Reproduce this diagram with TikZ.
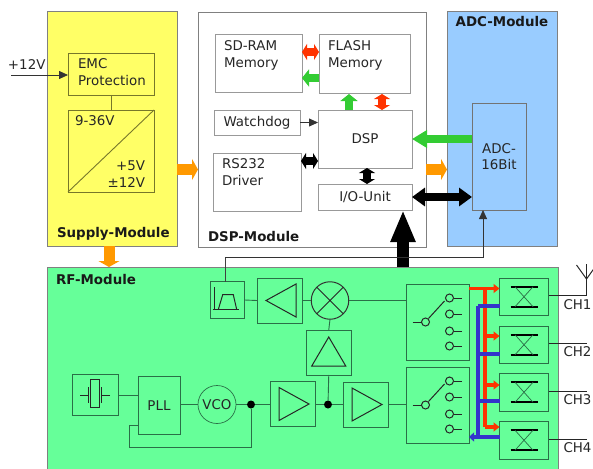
\documentclass[tikz,border=0pt]{standalone}
\usepackage{fontspec}
\setmainfont{DejaVu Sans}
\usetikzlibrary{positioning,arrows.meta}
\definecolor{supplyyellow}{HTML}{FFFF66}
\definecolor{adcblue}{HTML}{99CCFF}
\definecolor{rfgreen}{HTML}{66FF99}
\definecolor{arrowgreen}{HTML}{33CC33}
\definecolor{arrowred}{HTML}{FF3300}
\definecolor{arroworange}{HTML}{FF9900}
\definecolor{busblue}{HTML}{3333CC}
\definecolor{rfline}{HTML}{2A6F47}
\definecolor{yline}{HTML}{77772A}
\tikzset{
    x=1pt, y=-1pt,
    every node/.style={font=\fontsize{13.4}{16.5}\selectfont, text=black!85, inner sep=0pt, outer sep=0pt},
    }

\begin{document}
\begin{tikzpicture}[
module/.style={draw=black!50, line width=0.7pt, anchor=north west},
box/.style 2 args={draw, anchor=north west, minimum width=#1pt, minimum height=#2pt, line width=0.9pt},
dspbox/.style={draw=black!40, fill=white, line width=1pt},
rfbox/.style={draw=rfline},
ybox/.style={draw=yline},
title/.style={font=\fontsize{13.4}{16.5}\selectfont\bfseries, text=black!90},
txt/.style={align=left, anchor=north west},
wire/.style={rfline, line width=0.9pt},
symbol/.style={black!85, line width=1pt},
fatgreen/.style={arrowgreen, line width=8pt, -{Triangle[width=17pt,length=15pt]}},
smallgreen/.style={arrowgreen, line width=8pt, -{Triangle[width=17pt,length=7pt]}},
fatorange/.style={arroworange, line width=11pt, -{Triangle[width=21pt,length=6pt]}},
fatred/.style={arrowred, line width=8pt, {Triangle[width=16pt,length=5pt]}-{Triangle[width=16pt,length=5pt]}},
fatblack/.style={black, line width=8pt, {Triangle[width=16pt,length=5pt]}-{Triangle[width=16pt,length=5pt]}},
redbus/.style={arrowred, line width=3.5pt},
bluebus/.style={busblue, line width=3.5pt},
thin arrow/.style={black!80, line width=0.8pt, -{Triangle[width=8pt,length=9pt]}},
]
\useasboundingbox (0,0) rectangle (593,468);

% modules
\node[module, fill=supplyyellow, minimum width=130pt, minimum height=235pt] (supply) at (47,11) {};
\node[module, fill=white, minimum width=228pt, minimum height=235pt] (dspmod) at (198,12) {};
\node[module, fill=adcblue, minimum width=110pt, minimum height=235pt] (adcmod) at (447,11) {};
\node[module, fill=rfgreen, minimum width=511pt, minimum height=210pt] (rf) at (47,267) {};

\node[title, above right=6pt and 10pt of supply.south west] (supplytitle) {Supply-Module};
\node[title, above right=5pt and 10pt of dspmod.south west] (dsptitle) {DSP-Module};
\node[title, below=5pt of adcmod.north] (adctitle) {ADC-Module};
\node[title, below right=7pt and 9pt of rf.north west] (rftitle) {RF-Module};

% supply
\node[box={86}{42}, ybox] (emc) at (68,53) {};
\node[txt, below right=6pt and 10pt of emc.north west] (emctxt) {EMC\\Protection};
\node[box={86}{82}, ybox] (conv) at (68,110) {};
\node[txt, below right=6pt and 7pt of conv.north west] (convin) {9-36V};
\node[align=right, above left=5pt and 9pt of conv.south east] (convout) {+5V\\±12V};
\draw[yline, line width=0.9pt] (conv.south west) -- (conv.north east);
\draw[yline, line width=0.9pt] (emc.south) -- (emc.south |- conv.north);
\coordinate (vin) at (11,75);
\node[above right=5pt and -3pt of vin] (vinlabel) {+12V};
\draw[thin arrow] (vin) -- (vin -| emc.west);

% dsp
\node[box={87}{58}, dspbox] (sdram) at (215,35) {};
\node[box={91}{59}, dspbox] (flash) at (319,35) {};
\node[box={86}{25}, dspbox] (watchdog) at (214,110) {Watchdog};
\node[box={94}{58}, dspbox] (dsp) at (318,110) {DSP};
\node[box={88}{58}, dspbox] (rs232) at (213,153) {};
\node[box={94}{26}, dspbox] (io) at (318,184) {I/O-Unit};
\node[txt, below right=6pt and 9pt of sdram.north west] (sdramtxt) {SD-RAM\\Memory};
\node[txt, below right=6pt and 9pt of flash.north west] (flashtxt) {FLASH\\Memory};
\node[txt, below right=6pt and 9pt of rs232.north west] (rs232txt) {RS232\\Driver};

\draw[fatred] (sdram.east |- 0,52) -- (flash.west |- 0,52);
\draw[smallgreen] (flash.west |- 0,78) -- (sdram.east |- 0,78);
\draw[smallgreen] (349,110) -- (349,94);
\draw[fatred] (382,110) -- (382,94);
\draw[thin arrow] (watchdog.east) -- (watchdog.east -| dsp.west);
\draw[fatblack] (rs232.east |- 0,161) -- (dsp.west |- 0,161);
\draw[fatblack] (367,168) -- (367,184);

% adc
\node[box={54}{107}, draw=black!55, fill=adcblue, align=center] (adc) at (472,103) {ADC-\\16Bit};
\draw[fatgreen] (adc.west |- dsp.east) -- (dsp.east);
\draw[black, line width=8pt, {Triangle[width=18pt,length=13pt]}-{Triangle[width=18pt,length=13pt]}] (io.east) -- (io.east -| adc.west);
\coordinate (bigbus) at (403,267);
\draw[black, line width=12pt, -{Triangle[width=23pt,length=32pt]}] (bigbus) -- (bigbus |- io.south);
\draw[fatorange] (supply.east |- 0,169.5) -- (dspmod.west |- 0,169.5);
\draw[fatorange] (dspmod.east |- 0,169.5) -- (adcmod.west |- 0,169.5);
\draw[fatorange] (109,246) -- (109,267);

% rf
\node[box={34.5}{37}, rfbox] (bandpass) at (210,281.5) {};
\node[box={45}{45}, rfbox] (ampa) at (257,278) {};
\node[circle, draw=black!80, line width=1pt, minimum size=37.5pt] (mixer) at (330,300.5) {};
\node[box={45.5}{45}, rfbox] (ampup) at (306,330) {};
\node[box={45}{45}, rfbox] (ampb) at (270,381.5) {};
\node[box={45}{45}, rfbox] (ampc) at (343,382) {};
\node[box={46}{41}, rfbox] (quartz) at (72,374.5) {};
\node[box={42}{58}, rfbox] (pll) at (138,376.5) {PLL};
\node[circle, draw=rfline, line width=0.7pt, minimum size=38pt] (vco) at (217,404.5) {VCO};
\node[circle, fill=black, minimum size=8pt] (dotvco) at (251,404.5) {};
\node[circle, fill=black, minimum size=8pt] (dotamp) at (328,404.5) {};
\node[box={63}{76}, rfbox] (swa) at (406,284) {};
\node[box={63}{76}, rfbox] (swb) at (406,367) {};
\node[box={49}{37.5}, rfbox] (cha) at (499.5,278) {};
\node[box={49}{37.5}, rfbox] (chb) at (499.5,326) {};
\node[box={49}{38.5}, rfbox] (chc) at (499.5,373) {};
\node[box={49}{38.5}, rfbox] (chd) at (499.5,421) {};

% symbols in the boxes
\draw[symbol] (mixer.north west) -- (mixer.south east) (mixer.north east) -- (mixer.south west);
\draw[symbol] ([shift={(-13.5,0)}]ampa.center) -- ([shift={(16.5,-16.5)}]ampa.center) -- ([shift={(16.5,16.5)}]ampa.center) -- cycle;
\draw[symbol] ([shift={(0,-15.5)}]ampup.center) -- ([shift={(-17,13.5)}]ampup.center) -- ([shift={(17,13.5)}]ampup.center) -- cycle;
\foreach \n in {ampb,ampc}
    \draw[symbol] ([shift={(-13.5,-16.5)}]\n.center) -- ([shift={(-13.5,16.5)}]\n.center) -- ([shift={(16.5,0)}]\n.center) -- cycle;
\draw[symbol] (214.3,287) -- (214.3,310) (212.7,309.5) -- (239,309.5);
\draw[symbol] (218.3,309.5) -- (222.7,294.7) -- (233.3,294.7) -- (236.7,309.5);
\draw[symbol] ([shift={(-4.5,-15.5)}]quartz.center) rectangle ([shift={(4.5,12)}]quartz.center);
\draw[symbol] ([shift={(-15,0)}]quartz.center) -- ([shift={(-6.5,0)}]quartz.center) ([shift={(-6.5,-8)}]quartz.center) -- ([shift={(-6.5,8)}]quartz.center);
\draw[symbol] ([shift={(15,0)}]quartz.center) -- ([shift={(6.5,0)}]quartz.center) ([shift={(6.5,-8)}]quartz.center) -- ([shift={(6.5,8)}]quartz.center);
\foreach \n in {swa,swb}{
    \draw[symbol] ([shift={(-12,0)}]\n.center) circle (4);
    \draw[symbol] ([shift={(-25,0)}]\n.center) -- ([shift={(-16,0)}]\n.center);
    \draw[symbol] ([shift={(-9,-3.5)}]\n.center) -- ([shift={(7,-21)}]\n.center);
    \foreach \y in {-24,-8,9,24}{
        \draw[symbol] ([shift={(12,\y)}]\n.center) circle (4);
        \draw[symbol] ([shift={(16,\y)}]\n.center) -- ([shift={(24,\y)}]\n.center);
    }
}
\foreach \n in {cha,chb,chc,chd}{
    \draw[black, line width=1.8pt] ([shift={(-13.5,-10)}]\n.center) -- ([shift={(13.5,-10)}]\n.center);
    \draw[black, line width=1.8pt] ([shift={(-13.5,10)}]\n.center) -- ([shift={(13.5,10)}]\n.center);
    \draw[rfline, line width=0.7pt] ([shift={(-9,-10)}]\n.center) -- ([shift={(9,10)}]\n.center) ([shift={(9,-10)}]\n.center) -- ([shift={(-9,10)}]\n.center);
}

% rf wiring
\draw[wire] (bandpass.east) -- (ampa.west);
\draw[wire] (ampa.east) -- (mixer.west);
\draw[wire] (mixer.south) -- (ampup.north);
\draw[wire] (ampup.south) -- (dotamp);
\draw[wire] (mixer.east) -- (mixer.east -| swa.west);
\draw[wire] (quartz.east) -- (quartz.east -| pll.west);
\draw[wire] (vco.west -| pll.east) -- (vco.west);
\draw[wire] (vco.east) -- (dotvco);
\draw[wire] (dotvco) -- (dotvco -| ampb.west);
\draw[wire] (dotamp -| ampb.east) -- (dotamp);
\draw[wire] (dotamp) -- (ampc.west);
\draw[wire] (ampc.east) -- (ampc.east -| swb.west);
\coordinate (fbturn) at (129.5,447.5);
\draw[wire] (dotvco) -- (dotvco |- fbturn) -- (fbturn) -- (fbturn |- 0,425.5) -- (pll.west |- 0,425.5);
\coordinate (ifturn) at (225,257);
\draw[black!75, line width=0.8pt] (ifturn |- bandpass.north) -- (ifturn);
\draw[thin arrow] (ifturn) -- (483,257) -- (483,210);

% red and blue buses
\draw[redbus] (swa.east |- 0,288.5) -- (485,288.5) -- (485,427);
\foreach \n/\y in {cha/288.5,chb/336,chc/385,chd/427}
    \draw[redbus, -{Triangle[width=9pt,length=6pt]}] (485,\y) -- (\n.west |- 0,\y);
\draw[bluebus] (478,306) -- (478,437);
\foreach \n/\y in {cha/306,chb/354,chc/401}
    \draw[bluebus] (\n.west |- 0,\y) -- (478,\y);
\draw[bluebus, -{Triangle[width=9pt,length=5pt]}] (chd.west |- 0,437) -- (swb.east |- 0,437);

% channels
\foreach \n/\y/\t in {cha/295.5/CH1,chb/343/CH2,chc/391/CH3,chd/439/CH4}{
    \coordinate (end\n) at (586.5,\y);
    \draw[black!85, line width=0.9pt] (\n.east |- end\n) -- (end\n);
    \node[anchor=north east, xshift=5pt, yshift=-4pt] (label\n) at (end\n) {\t};
}
\coordinate (anttip) at (586.5,279);
\draw[black!85, line width=1pt] (endcha) -- (586.5,264);
\draw[black!85, line width=1pt] (576.5,265) -- (anttip) -- (596.5,265);
\end{tikzpicture}
\end{document}
